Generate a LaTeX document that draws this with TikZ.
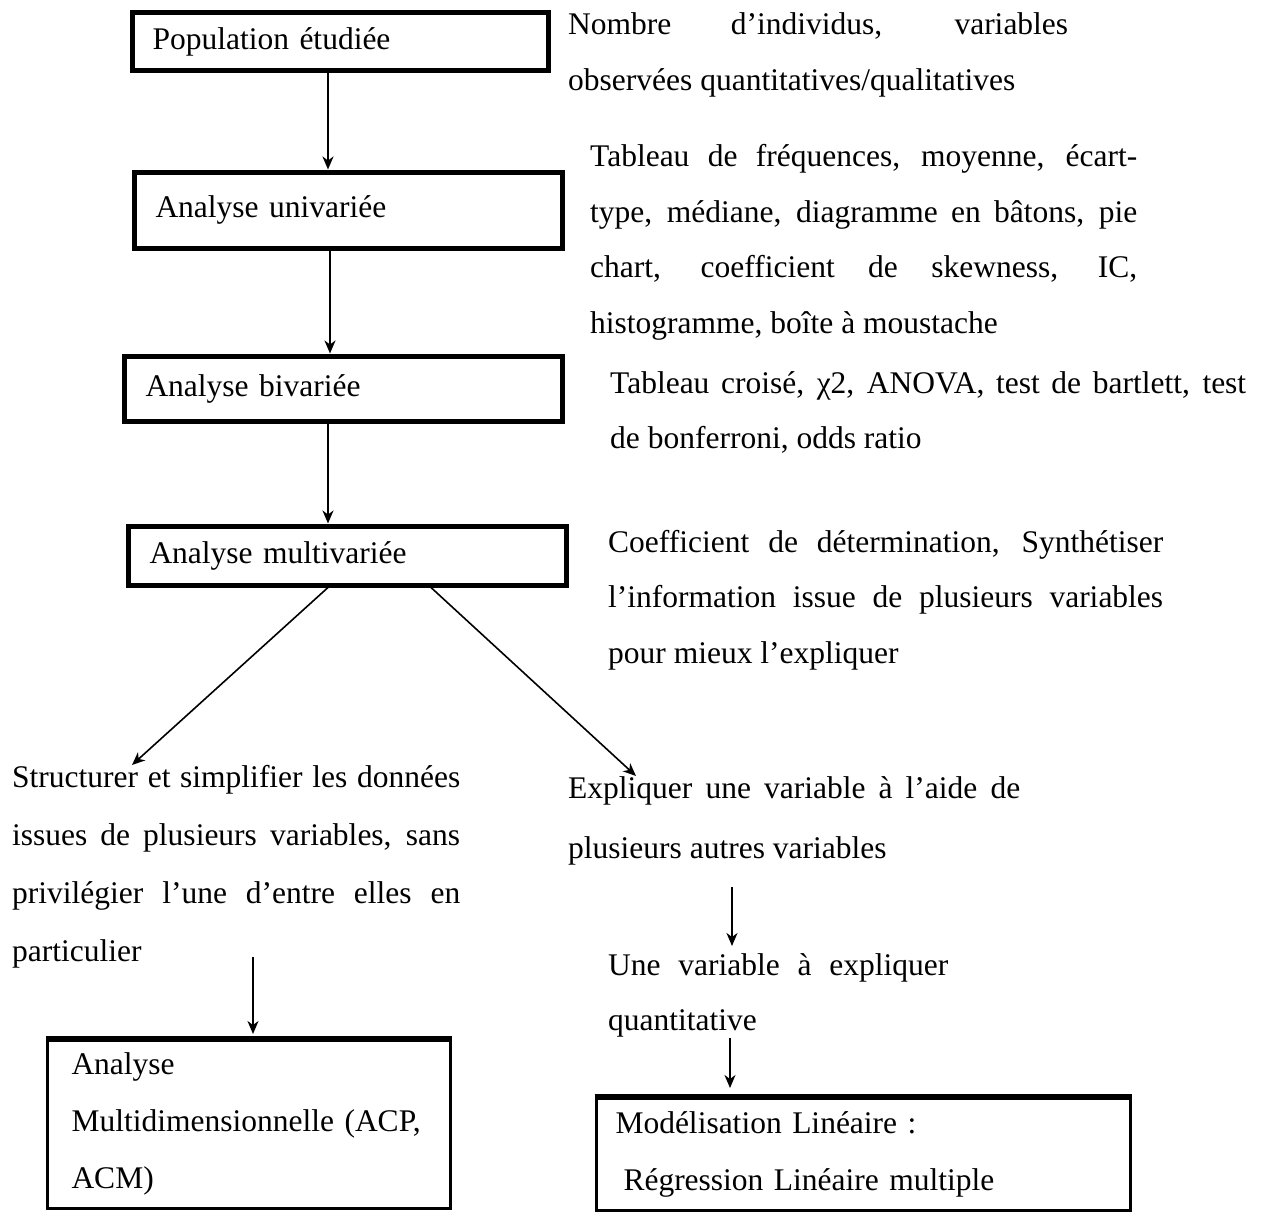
\documentclass[tikz,border=0pt]{standalone}
\usepackage{fontspec}
\setmainfont{Liberation Serif}
\usetikzlibrary{arrows.meta}
\newcommand{\fsA}{\fontsize{31.5}{57}\selectfont}
\newcommand{\fsB}{\fontsize{31.5}{55.5}\selectfont}
\newcommand{\fsC}{\fontsize{31.5}{58}\selectfont}
\newcommand{\fsD}{\fontsize{31.5}{60}\selectfont}
\begin{document}
\begin{tikzpicture}[x=1pt,y=-1pt,
  box/.style={draw, line width=5pt, rectangle, anchor=north west, align=left, inner ysep=0pt, font=\fsC},
  para/.style={anchor=base west, inner sep=0pt, align=justify, font=\fsA},
  arr/.style={-{Stealth[length=13pt,width=11pt,inset=4pt]}, line width=2pt},
  arrthin/.style={-{Stealth[length=13pt,width=11pt,inset=4pt]}, line width=1.6pt}]
\useasboundingbox (0,0) rectangle (1261,1212);
\hyphenpenalty=10000
% boxes
\node[box, minimum width=416pt, minimum height=58pt, inner xsep=20.5pt, text width=375pt] (b1) at (129.5,10.5) {Population étudiée};
\node[box, minimum width=428pt, minimum height=76pt, inner xsep=21.5pt, text width=385pt] (b2) at (131.5,169.5) {Analyse univariée};
\node[box, minimum width=438pt, minimum height=65pt, inner xsep=21.5pt, text width=395pt] (b3) at (121.5,353.5) {Analyse bivariée};
\node[box, minimum width=438pt, minimum height=59pt, inner xsep=21.5pt, text width=395pt] (b4) at (125.5,523.5) {Analyse multivariée};
\node[box, line width=3pt, minimum width=403pt, minimum height=168pt, inner xsep=24.5pt, text width=354pt, font=\fontsize{31.5}{57}\selectfont] (b5) at (45.5,1038.5) {Analyse\\Multidimensionnelle (ACP,\\ACM)};
\draw[line width=5pt] (b5.north west) -- (b5.north east);
\node[box, line width=3pt, minimum width=534pt, minimum height=112pt, inner xsep=19.5pt, text width=495pt, font=\fontsize{31.5}{57}\selectfont] (b6) at (594.5,1096.5) {Modélisation Linéaire :\\\hspace*{8pt}Régression Linéaire multiple};
\draw[line width=5pt] (b6.north west) -- (b6.north east);
% side texts
\node[para, font=\fsB, text width=500pt] (t1) at (568,35) {Nombre d’individus, variables\linebreak observées quantitatives/qualitatives};
\node[para, font=\fsB, text width=547pt] (t2) at (590,167) {Tableau de fréquences, moyenne, écart-\linebreak type, médiane, diagramme en bâtons, pie\linebreak chart, coefficient de skewness, IC,\linebreak histogramme, boîte à moustache};
\node[para, font=\fsB, text width=636pt] (t3) at (610,393) {Tableau croisé, χ2, ANOVA, test de bartlett, test\linebreak de bonferroni, odds ratio};
\node[para, font=\fsB, text width=555pt] (t4) at (608,552) {Coefficient de détermination, Synthétiser\linebreak l’information issue de plusieurs variables\linebreak pour mieux l’expliquer};
\node[para, font=\fsC, text width=448pt] (tl) at (12,787) {Structurer et simplifier les données\linebreak issues de plusieurs variables, sans\linebreak privilégier l’une d’entre elles en\linebreak particulier};
\node[para, font=\fsD, text width=452pt] (te) at (568,798) {Expliquer une variable à l’aide de\linebreak plusieurs autres variables};
\node[para, font=\fsB, text width=340pt] (tu) at (608,975) {Une variable à expliquer\linebreak quantitative};
% helper coordinates
\coordinate (xa) at (328,0);
\coordinate (xb) at (330,0);
\coordinate (xl) at (328,0);
\coordinate (xr) at (431,0);
\coordinate (tipL) at (132,765);
\coordinate (tipR) at (636,776);
\coordinate (sL) at (253,957);
\coordinate (eL) at (253,1034);
\coordinate (sR1) at (732,887);
\coordinate (eR1) at (732,946);
\coordinate (sR2) at (730,1038);
\coordinate (eR2) at (730,1088);
% connectors
\draw[arr] (b1.south -| xa) -- (b2.north -| xa);
\draw[arr] (b2.south -| xb) -- (b3.north -| xb);
\draw[arr] (b3.south -| xa) -- (b4.north -| xa);
\draw[arrthin] (b4.south -| xl) -- (tipL);
\draw[arrthin] (b4.south -| xr) -- (tipR);
\draw[arrthin] (sL) -- (eL);
\draw[arrthin] (sR1) -- (eR1);
\draw[arrthin] (sR2) -- (eR2);
\end{tikzpicture}
\end{document}
